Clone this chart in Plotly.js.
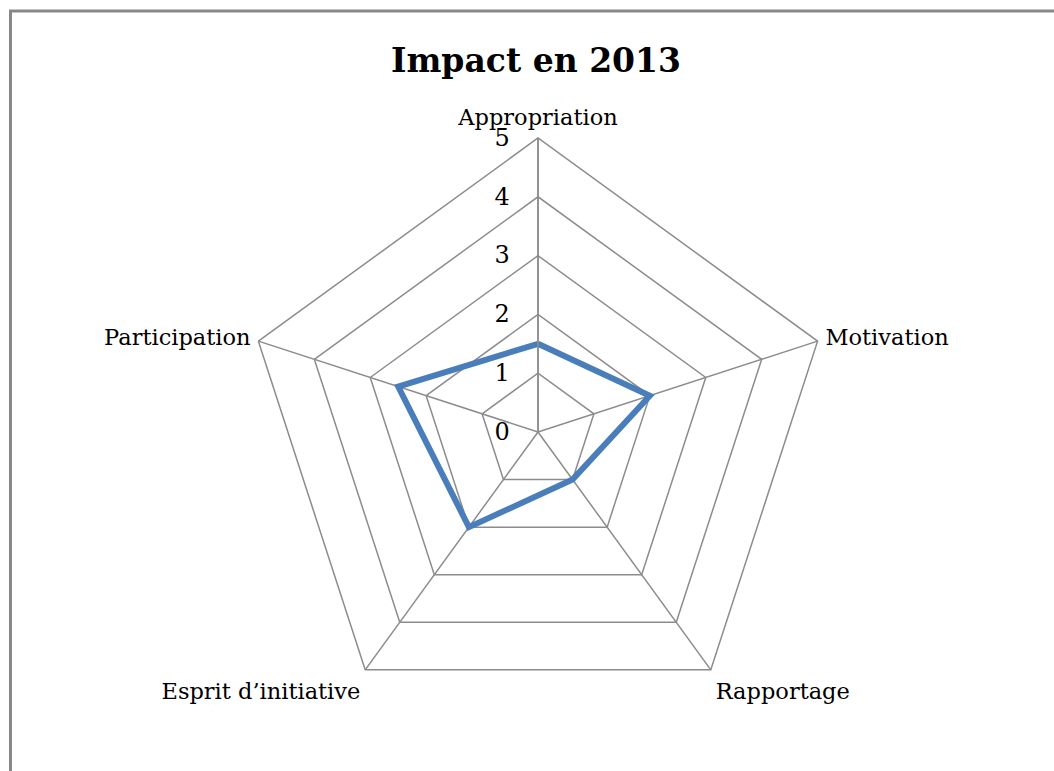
<!DOCTYPE html>
<html>
<head>
<meta charset="utf-8">
<script src="https://cdn.plot.ly/plotly-3.0.1.min.js"></script>
<style>
html,body{margin:0;padding:0;background:#fff;}
#chart{width:1054px;height:771px;}
</style>
</head>
<body>
<div id="chart"></div>
<script>
const categories = ["Appropriation", "Motivation", "Rapportage", "Esprit d’initiative", "Participation"];
const values = [1.5, 2, 1, 2, 2.5];
const radialTicks = [0, 1, 2, 3, 4, 5];

const W = 1054, H = 771;
const cx = 538, cy = 432, R = 294;
const FONT = '"DejaVu Serif", "Liberation Serif", serif';

const trace = {
  type: 'scatterpolar',
  r: values.concat([values[0]]),
  theta: categories.concat([categories[0]]),
  mode: 'lines',
  line: {color: '#4a7ebb', width: 6},
  hoverinfo: 'skip',
  showlegend: false
};

const layout = {
  width: W, height: H,
  margin: {l: 0, r: 0, t: 0, b: 0},
  paper_bgcolor: '#fff',
  font: {family: FONT, color: '#000', size: 22},
  title: {
    text: '<b>Impact en 2013</b>',
    font: {family: FONT, size: 33, color: '#000'},
    x: 536/W, xanchor: 'center',
    y: 1 - 60/H, yanchor: 'middle'
  },
  polar: {
    domain: {x: [(cx - R)/W, (cx + R)/W], y: [(H - cy - R)/H, (H - cy + R)/H]},
    gridshape: 'linear',
    bgcolor: '#fff',
    radialaxis: {
      range: [0, 5],
      tickvals: radialTicks,
      ticktext: radialTicks.map(String),
      angle: 90,
      tickangle: 90,
      side: 'counterclockwise',
      showline: true,
      linecolor: '#8c8c8c',
      linewidth: 1.5,
      gridcolor: '#8c8c8c',
      gridwidth: 1.5,
      ticks: 'outside',
      ticklen: 19,
      tickcolor: 'rgba(0,0,0,0)',
      tickfont: {size: 24, family: FONT, color: '#000'}
    },
    angularaxis: {
      rotation: 90,
      direction: 'clockwise',
      showline: true,
      linecolor: '#8c8c8c',
      linewidth: 1.5,
      gridcolor: '#8c8c8c',
      gridwidth: 1.5,
      ticks: 'outside',
      ticklen: 3,
      tickcolor: 'rgba(0,0,0,0)',
      tickfont: {size: 22.5, family: FONT, color: '#000'}
    }
  },
  shapes: [{
    type: 'rect', xref: 'paper', yref: 'paper',
    x0: 10.5/W, x1: 1.2, y0: -0.2, y1: 1 - 11/H,
    line: {color: '#888', width: 3}, fillcolor: 'rgba(0,0,0,0)'
  }]
};

Plotly.newPlot('chart', [trace], layout, {displayModeBar: false, staticPlot: true});
</script>
</body>
</html>
